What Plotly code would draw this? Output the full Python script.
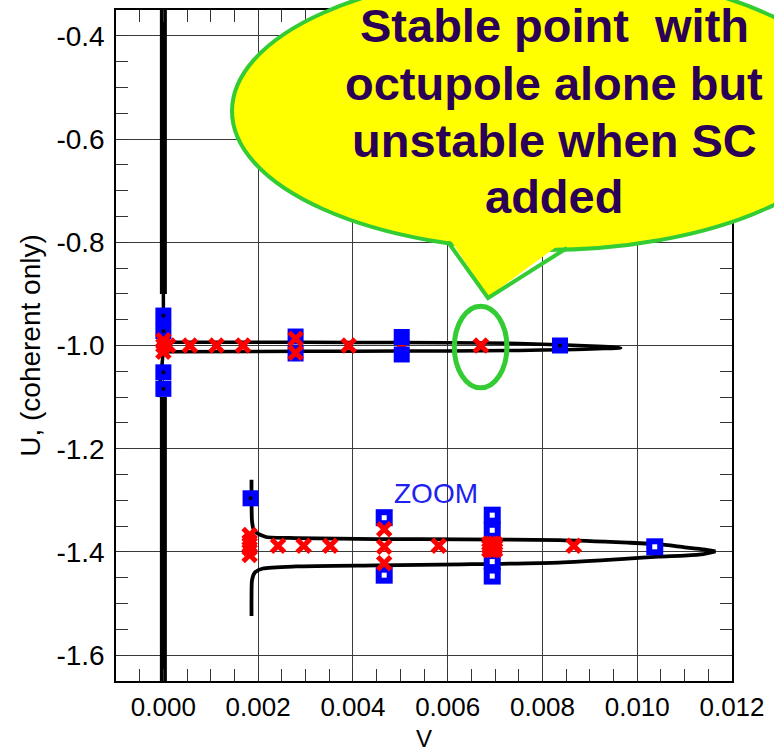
import plotly.graph_objects as go

# ---------------- data ----------------
x_tick_vals = [0.000, 0.002, 0.004, 0.006, 0.008, 0.010, 0.012]
x_tick_labels = ["0.000", "0.002", "0.004", "0.006", "0.008", "0.010", "0.012"]
y_tick_vals = [-0.4, -0.6, -0.8, -1.0, -1.2, -1.4, -1.6]
y_tick_labels = ["-0.4", "-0.6", "-0.8", "-1.0", "-1.2", "-1.4", "-1.6"]

# thick stability line at V = 0
zero_thick_top_V = [0.0, 0.0]
zero_thick_top_U = [-0.35, -0.90]
zero_thin_top_V = [0.0, 0.0]
zero_thin_top_U = [-0.90, -0.99]
zero_thin_bot_V = [0.0, -0.0001]
zero_thin_bot_U = [-1.01, -1.10]
zero_thick_bot_V = [0.0, 0.0]
zero_thick_bot_U = [-1.10, -1.65]

# narrow tongue around U = -1.0
tongue1_V = [0.0, 0.002, 0.004, 0.006, 0.0075, 0.0085, 0.0093, 0.00965,
             0.0093, 0.0085, 0.0075, 0.006, 0.004, 0.002, 0.0]
tongue1_U = [-0.9935, -0.9935, -0.994, -0.9945, -0.996, -0.999, -1.002, -1.0045,
             -1.006, -1.008, -1.0095, -1.0105, -1.011, -1.0115, -1.012]

# tongue around U = -1.4 (upper branch, then lower branch)
tongue2_up_V = [0.00186, 0.00186, 0.00187, 0.0019, 0.00196, 0.00217, 0.0028, 0.0045,
                0.0063, 0.00835, 0.0098, 0.01045, 0.0110, 0.0114, 0.01165]
tongue2_up_U = [-1.26, -1.30, -1.34, -1.355, -1.3625, -1.371, -1.373, -1.375,
                -1.3755, -1.377, -1.382, -1.385, -1.391, -1.395, -1.399]
tongue2_lo_V = [0.01165, 0.0114, 0.0110, 0.01045, 0.0098, 0.00835, 0.0063, 0.0045,
                0.0028, 0.0021, 0.00193, 0.00187, 0.00186, 0.00186]
tongue2_lo_U = [-1.399, -1.404, -1.407, -1.409, -1.413, -1.4206, -1.424, -1.426,
                -1.428, -1.432, -1.44, -1.455, -1.49, -1.524]

# red crosses drawn beneath the blue squares
red_under_V = [0.00503]
red_under_U = [-1.0]

# filled blue squares (with black centre dot where present)
blue_fill_V = [0.0, 0.0, 0.0, 0.0, 0.00279, 0.00279, 0.00503, 0.00503, 0.00837, 0.00184]
blue_fill_U = [-0.942, -0.972, -1.052, -1.084, -0.9826, -1.0155, -0.9835, -1.0174, -1.0, -1.296]
black_dot_V = [0.0, 0.0, 0.0, 0.0, 0.00837, 0.00184]
black_dot_U = [-0.942, -0.972, -1.052, -1.084, -1.0, -1.296]

# blue squares with white centre
blue_open_V = [0.00466, 0.00466, 0.00694, 0.00694, 0.00694, 0.00694, 0.01037]
blue_open_U = [-1.3336, -1.445, -1.3287, -1.358, -1.4187, -1.4467, -1.390]

# red crosses
red_x_V = [0.0, 0.0, 0.0, 0.0001, 0.00056, 0.00112, 0.00168, 0.00279, 0.00279, 0.00391, 0.0067,
           0.00182, 0.00182, 0.00182, 0.00182, 0.00242, 0.00296, 0.00352,
           0.00466, 0.00466, 0.00466, 0.00581,
           0.00688, 0.00694, 0.0070, 0.00688, 0.00694, 0.0070, 0.00688, 0.00694, 0.0070,
           0.00866]
red_x_U = [-0.99, -1.0, -1.012, -1.0, -1.0, -1.0, -1.0, -0.987, -1.014, -1.0, -1.0,
           -1.367, -1.38, -1.393, -1.406, -1.388, -1.388, -1.388,
           -1.356, -1.39, -1.422, -1.388,
           -1.384, -1.384, -1.384, -1.39, -1.39, -1.39, -1.396, -1.396, -1.396,
           -1.388]

# highlighted point (green ellipse)
highlight_V = [0.00614, 0.00725]
highlight_U = [-1.082, -0.924]

callout_lines = ["Stable point\u00a0 with", "octupole alone but", "unstable when SC", "added"]
zoom_label = "ZOOM"
zoom_label_V = 0.00576
zoom_label_U = -1.2864
x_title = "V"
y_title = "U, (coherent only)"

# ---------------- figure ----------------
FONT = "Liberation Sans, Arial, sans-serif"
W, H = 774, 752
ML, MR, MT, MB = 116, 42, 10, 71
PW, PH = W - ML - MR, H - MT - MB


def pxx(p):
    return (p - ML) / PW


def pxy(p):
    return (H - MB - p) / PH


fig = go.Figure()

fig.add_trace(go.Scatter(x=zero_thick_top_V, y=zero_thick_top_U, mode="lines",
                         line=dict(color="black", width=7), showlegend=False))
fig.add_trace(go.Scatter(x=zero_thin_top_V, y=zero_thin_top_U, mode="lines",
                         line=dict(color="black", width=3.5), showlegend=False))
fig.add_trace(go.Scatter(x=zero_thin_bot_V, y=zero_thin_bot_U, mode="lines",
                         line=dict(color="black", width=3.5), showlegend=False))
fig.add_trace(go.Scatter(x=zero_thick_bot_V, y=zero_thick_bot_U, mode="lines",
                         line=dict(color="black", width=7), showlegend=False))
fig.add_trace(go.Scatter(x=tongue1_V, y=tongue1_U, mode="lines",
                         line=dict(color="black", width=3.5, shape="spline", smoothing=0.6),
                         showlegend=False))
fig.add_trace(go.Scatter(x=tongue2_up_V + tongue2_lo_V, y=tongue2_up_U + tongue2_lo_U, mode="lines",
                         line=dict(color="black", width=3.8, shape="spline", smoothing=0.6),
                         showlegend=False))

x_marker = dict(symbol="x-thin", size=13, color="#FF0000", line=dict(color="#FF0000", width=5))
fig.add_trace(go.Scatter(x=red_under_V, y=red_under_U, mode="markers", marker=x_marker,
                         showlegend=False))
fig.add_trace(go.Scatter(x=blue_fill_V, y=blue_fill_U, mode="markers",
                         marker=dict(symbol="square", size=16, color="#0000FF"), showlegend=False))
fig.add_trace(go.Scatter(x=black_dot_V, y=black_dot_U, mode="markers",
                         marker=dict(symbol="square", size=3.5, color="black"), showlegend=False))
fig.add_trace(go.Scatter(x=blue_open_V, y=blue_open_U, mode="markers",
                         marker=dict(symbol="square", size=17, color="#0000FF"), showlegend=False))
fig.add_trace(go.Scatter(x=blue_open_V, y=blue_open_U, mode="markers",
                         marker=dict(symbol="square", size=5, color="white"), showlegend=False))
fig.add_trace(go.Scatter(x=red_x_V, y=red_x_U, mode="markers", marker=x_marker,
                         showlegend=False))

GREEN = "#33CC33"
shapes = [
    dict(type="circle", xref="x", yref="y", x0=highlight_V[0], x1=highlight_V[1],
         y0=highlight_U[0], y1=highlight_U[1], line=dict(color=GREEN, width=5), layer="above"),
    # callout bubble
    dict(type="circle", xref="paper", yref="paper", x0=pxx(232), x1=pxx(856),
         y0=pxy(250), y1=pxy(-28), fillcolor="#FFFF00", line=dict(color=GREEN, width=4),
         layer="above"),
    dict(type="path", xref="paper", yref="paper",
         path="M {:.4f},{:.4f} L {:.4f},{:.4f} L {:.4f},{:.4f} Z".format(
             pxx(444), pxy(230), pxx(488), pxy(297), pxx(571), pxy(236)),
         fillcolor="#FFFF00", line=dict(width=0), layer="above"),
    dict(type="path", xref="paper", yref="paper",
         path="M {:.4f},{:.4f} L {:.4f},{:.4f} L {:.4f},{:.4f}".format(
             pxx(448), pxy(242), pxx(488), pxy(298), pxx(567), pxy(248)),
         line=dict(color=GREEN, width=4), layer="above"),
]

callout_y_px = [26, 83, 140, 197]
annotations = []
for txt, ypx in zip(callout_lines, callout_y_px):
    annotations.append(dict(xref="paper", yref="paper", x=pxx(554), y=pxy(ypx),
                            xanchor="center", yanchor="middle", text="<b>" + txt + "</b>",
                            showarrow=False, font=dict(family=FONT, size=47, color="#2B0057")))
annotations.append(dict(xref="x", yref="y", x=zoom_label_V, y=zoom_label_U, text=zoom_label,
                        showarrow=False, xanchor="center", yanchor="middle",
                        font=dict(family=FONT, size=28, color="#2020F0")))
annotations.append(dict(xref="paper", yref="paper", x=pxx(424), y=pxy(738), text=x_title,
                        showarrow=False, xanchor="center", yanchor="middle",
                        font=dict(family=FONT, size=24, color="black")))

axis_common = dict(
    showline=True, linecolor="black", linewidth=1.5, mirror="ticks",
    ticks="inside", ticklen=12, tickwidth=1.2, tickcolor="#333333",
    showgrid=True, gridcolor="#3a3a3a", gridwidth=1.2, zeroline=False, automargin=False,
)

fig.update_layout(
    width=W, height=H,
    margin=dict(l=ML, r=MR, t=MT, b=MB, pad=0),
    paper_bgcolor="white", plot_bgcolor="white",
    font=dict(family=FONT, color="black"),
    shapes=shapes, annotations=annotations,
    xaxis=dict(range=[-0.001, 0.012], tickmode="array", tickvals=x_tick_vals,
               ticktext=x_tick_labels, ticklabelstandoff=2,
               tickfont=dict(family=FONT, size=26, color="black"),
               minor=dict(ticks="inside", ticklen=12, tickwidth=1.2, tickcolor="#333333",
                          tickmode="linear", tick0=0, dtick=0.0005, showgrid=False),
               **axis_common),
    yaxis=dict(range=[-1.65, -0.35], tickmode="array", tickvals=y_tick_vals,
               ticktext=y_tick_labels, ticklabelstandoff=4,
               tickfont=dict(family=FONT, size=28, color="black"),
               title=dict(text=y_title, font=dict(family=FONT, size=28), standoff=8),
               minor=dict(ticks="inside", ticklen=12, tickwidth=1.2, tickcolor="#333333",
                          tickmode="linear", tick0=0, dtick=0.05, showgrid=False),
               **axis_common),
)

fig.write_html("out.html")
